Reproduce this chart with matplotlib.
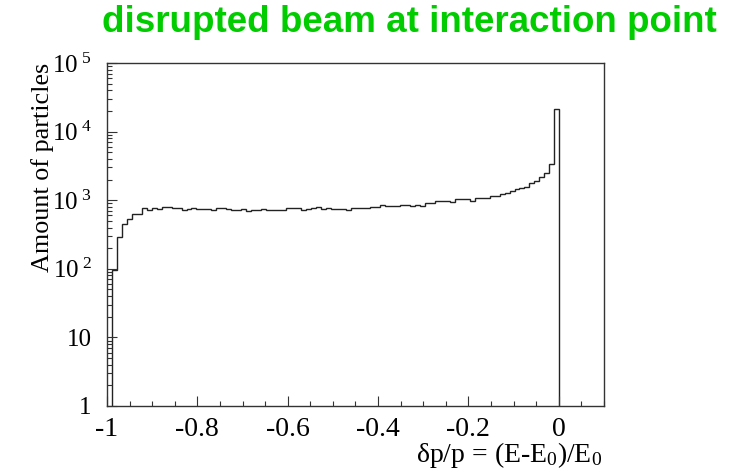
import numpy as np
import matplotlib
matplotlib.use('Agg')
import matplotlib.pyplot as plt
from matplotlib.ticker import FixedLocator, FuncFormatter, MultipleLocator

plt.rcParams['font.family'] = 'Liberation Serif'
plt.rcParams['mathtext.fontset'] = 'custom'
plt.rcParams['mathtext.rm'] = 'Liberation Serif'
plt.rcParams['mathtext.it'] = 'Liberation Serif:italic'

# histogram: 100 bins on [-1, 0.1], bins 1..90 are filled
n_bins = 100
x_range = (-1.0, 0.1)
first_bin = 1
counts = [
    96, 288, 445, 535, 620, 620, 760, 720, 760, 735,
    800, 800, 760, 760, 710, 750, 780, 735, 735, 735,
    728, 760, 760, 745, 720, 710, 735, 695, 710, 710,
    735, 710, 710, 710, 728, 760, 760, 760, 710, 735,
    770, 800, 750, 770, 735, 745, 745, 720, 780, 760,
    760, 760, 800, 800, 845, 815, 815, 815, 860, 860,
    830, 860, 815, 900, 900, 960, 960, 960, 930, 1030,
    1030, 1040, 985, 1070, 1070, 1070, 1150, 1150, 1220, 1290,
    1380, 1440, 1510, 1580, 1780, 1930, 2150, 2520, 3380, 21400,
]

title = "disrupted beam at interaction point"
x_label = "δp/p = (E-E$_0$)/E$_0$"
y_label = "Amount of particles"


def y_fmt(v, pos):
    if v == 1:
        return "1"
    if v == 10:
        return "10"
    return "10$^{\\ %d}$" % round(np.log10(v))


fig = plt.figure(figsize=(7.37, 4.74), dpi=100)
ax = fig.add_axes([0.1452, 0.1435, 0.6743, 0.7235])

edges = np.linspace(x_range[0], x_range[1], n_bins + 1)
edges = edges[first_bin:first_bin + len(counts) + 1]
ax.stairs(counts, edges, baseline=0.3, color='#222222', lw=1.0)

ax.set_yscale('log')
ax.set_xlim(-1.0, 0.1)
ax.set_ylim(1, 1e5)

ax.xaxis.set_major_locator(MultipleLocator(0.2))
ax.xaxis.set_minor_locator(MultipleLocator(0.05))
ax.xaxis.set_major_formatter(FuncFormatter(lambda v, p: "%g" % round(v, 2)))
ax.yaxis.set_major_locator(FixedLocator([1, 10, 100, 1e3, 1e4, 1e5]))
ax.yaxis.set_major_formatter(FuncFormatter(y_fmt))

ax.tick_params(which='both', direction='in', top=False, right=False, color='#333333')
ax.tick_params(which='major', length=7, width=0.8)
ax.tick_params(which='minor', length=3.5, width=0.8)
ax.tick_params(axis='y', pad=11, labelsize=18)
ax.tick_params(axis='x', pad=8, labelsize=20)

for s in ax.spines.values():
    s.set_color('#333333')
    s.set_linewidth(1.0)

fig.text(0.555, 0.952, title, color='#00cc00', fontsize=26.5, fontweight='bold',
         family='Liberation Sans', ha='center', va='center')
fig.text(0.817, 0.026, x_label, fontsize=20, ha='right', va='baseline')
fig.text(0.058, 0.867, y_label, fontsize=18.8, rotation=90, ha='center', va='top')

fig.savefig("out.png", dpi=100)
